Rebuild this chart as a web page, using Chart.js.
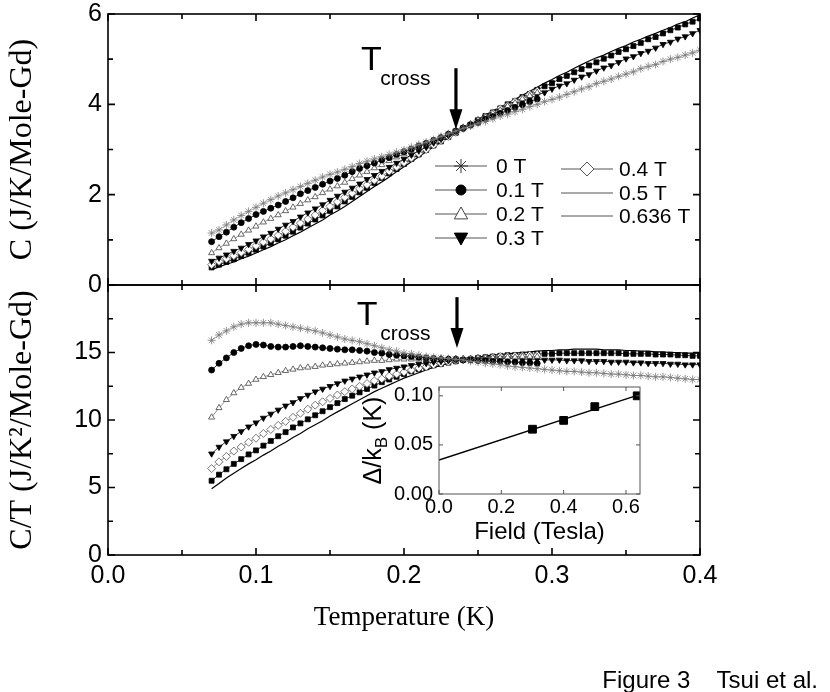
<!DOCTYPE html>
<html>
<head>
<meta charset="utf-8">
<script src="https://cdn.jsdelivr.net/npm/chart.js@4.4.1/dist/chart.umd.min.js"></script>
<style>
body{margin:0;background:#fff;}
#page{position:relative;width:830px;height:692px;background:#fff;overflow:hidden;}
canvas{position:absolute;}
#topPlot{left:0;top:0;}
#botPlot{left:0;top:270px;}
#inset{left:340px;top:375px;}
#caption{position:absolute;right:12px;top:666px;font:24px "Liberation Sans",Arial,sans-serif;white-space:pre;line-height:28px;color:#000;}
</style>
</head>
<body>
<div id="page">
<canvas id="topPlot" width="830" height="300"></canvas>
<canvas id="botPlot" width="830" height="422"></canvas>
<canvas id="inset" width="310" height="180"></canvas>
<div id="caption">Figure 3    Tsui et al.</div>
</div>
<script>
// temperature grid (K), shared by all field runs
const temps = [
  0.070,0.075,0.080,0.085,0.090,0.095,0.100,0.105,0.110,0.115,
  0.120,0.125,0.130,0.135,0.140,0.145,0.150,0.155,0.160,0.165,
  0.170,0.175,0.180,0.185,0.190,0.195,0.200,0.205,0.210,0.215,
  0.220,0.225,0.230,0.235,0.240,0.245,0.250,0.255,0.260,0.265,
  0.270,0.275,0.280,0.285,0.290,0.295,0.300,0.305,0.310,0.315,
  0.320,0.325,0.330,0.335,0.340,0.345,0.350,0.355,0.360,0.365,
  0.370,0.375,0.380,0.385,0.390,0.395,0.400];

const fieldLabels = ['0 T', '0.1 T', '0.2 T', '0.3 T', '0.4 T', '0.5 T', '0.636 T'];

// C (J/K/Mole-Gd), top panel
const cZero = [
  1.15,1.22,1.33,1.44,1.54,1.63,1.72,1.81,1.89,1.97,
  2.04,2.11,2.18,2.25,2.32,2.39,2.45,2.50,2.56,2.62,
  2.69,2.74,2.79,2.84,2.89,2.94,2.99,3.05,3.11,3.16,
  3.22,3.29,3.35,3.41,3.47,3.52,3.58,3.62,3.68,3.74,
  3.78,3.84,3.89,3.95,4.00,4.06,4.11,4.16,4.22,4.28,
  4.34,4.39,4.46,4.51,4.56,4.62,4.67,4.72,4.79,4.84,
  4.88,4.95,5.00,5.04,5.09,5.14,5.20];
const cP1 = [
  0.96,1.07,1.17,1.28,1.38,1.47,1.56,1.63,1.70,1.77,
  1.85,1.93,2.02,2.09,2.16,2.23,2.30,2.36,2.43,2.51,
  2.58,2.64,2.70,2.77,2.82,2.89,2.95,3.01,3.08,3.14,
  3.20,3.26,3.34,3.41,3.47,3.54,3.60,3.67,3.73,3.80,
  3.86,3.93,3.99,4.06,4.12];
const cP2 = [
  0.71,0.82,0.92,1.02,1.12,1.21,1.30,1.39,1.47,1.55,
  1.64,1.72,1.80,1.88,1.95,2.04,2.12,2.19,2.27,2.35,
  2.43,2.51,2.59,2.66,2.75,2.83,2.90,2.97,3.05,3.12,
  3.20,3.27,3.35,3.42,3.49,3.56,3.65,3.72,3.80,3.87,
  3.96,4.03,4.12,4.19,4.26];
const cP3 = [
  0.53,0.60,0.67,0.75,0.82,0.90,0.98,1.07,1.15,1.24,
  1.33,1.41,1.51,1.60,1.69,1.78,1.88,1.97,2.06,2.15,
  2.24,2.34,2.43,2.52,2.61,2.70,2.79,2.88,2.97,3.05,
  3.15,3.23,3.31,3.40,3.48,3.55,3.64,3.71,3.78,3.86,
  3.93,4.00,4.06,4.13,4.21,4.26,4.34,4.41,4.46,4.54,
  4.61,4.66,4.74,4.81,4.86,4.93,5.01,5.06,5.13,5.18,
  5.25,5.33,5.38,5.45,5.50,5.57,5.64];
const cP4 = [
  0.45,0.52,0.58,0.65,0.72,0.79,0.87,0.95,1.02,1.10,
  1.19,1.28,1.37,1.46,1.55,1.65,1.74,1.84,1.94,2.03,
  2.13,2.22,2.32,2.41,2.52,2.61,2.71,2.81,2.91,3.00,
  3.10,3.20,3.29,3.38,3.47,3.55,3.64,3.72,3.81,3.90,
  3.97,4.06,4.13,4.22,4.29];
const cP5 = [
  0.39,0.45,0.51,0.57,0.64,0.71,0.78,0.85,0.93,1.01,
  1.09,1.18,1.27,1.36,1.45,1.54,1.64,1.74,1.85,1.95,
  2.05,2.15,2.26,2.37,2.47,2.57,2.68,2.79,2.89,2.99,
  3.09,3.18,3.28,3.37,3.47,3.55,3.65,3.74,3.82,3.91,
  4.00,4.07,4.16,4.23,4.32,4.40,4.47,4.56,4.63,4.71,
  4.78,4.86,4.93,5.01,5.08,5.16,5.22,5.29,5.36,5.44,
  5.49,5.57,5.64,5.70,5.77,5.83,5.90];
const cP636 = [
  0.34,0.40,0.46,0.51,0.58,0.64,0.71,0.78,0.85,0.93,
  1.00,1.09,1.17,1.26,1.35,1.44,1.55,1.64,1.74,1.85,
  1.96,2.07,2.18,2.28,2.39,2.51,2.62,2.73,2.84,2.95,
  3.06,3.16,3.27,3.37,3.47,3.56,3.66,3.76,3.85,3.94,
  4.02,4.11,4.20,4.29,4.38,4.47,4.55,4.64,4.71,4.80,
  4.88,4.96,5.03,5.09,5.17,5.24,5.30,5.38,5.44,5.51,
  5.57,5.64,5.70,5.78,5.83,5.91,5.98];

// C/T (J/K^2/Mole-Gd), bottom panel
const ctZero = [
  15.9,16.3,16.6,16.9,17.1,17.2,17.2,17.2,17.2,17.1,
  17.0,16.9,16.8,16.7,16.6,16.45,16.3,16.15,16.0,15.9,
  15.8,15.65,15.5,15.35,15.2,15.1,14.95,14.9,14.8,14.7,
  14.65,14.6,14.55,14.5,14.45,14.35,14.3,14.2,14.15,14.1,
  14.0,13.95,13.9,13.85,13.8,13.75,13.7,13.65,13.6,13.6,
  13.55,13.5,13.5,13.45,13.4,13.4,13.35,13.3,13.3,13.25,
  13.2,13.2,13.15,13.1,13.05,13.0,13.0];
const ctP1 = [
  13.7,14.2,14.6,15.0,15.3,15.5,15.6,15.55,15.45,15.4,
  15.4,15.45,15.5,15.45,15.4,15.35,15.3,15.25,15.2,15.2,
  15.15,15.1,15.0,14.95,14.85,14.8,14.75,14.7,14.65,14.6,
  14.55,14.5,14.5,14.5,14.45,14.45,14.4,14.4,14.35,14.35,
  14.3,14.3,14.25,14.25,14.2];
const ctP2 = [
  10.2,10.9,11.5,12.0,12.4,12.7,13.0,13.2,13.35,13.5,
  13.65,13.75,13.85,13.9,13.95,14.05,14.1,14.15,14.2,14.25,
  14.3,14.35,14.4,14.4,14.45,14.5,14.5,14.5,14.5,14.5,
  14.55,14.55,14.55,14.55,14.55,14.55,14.6,14.6,14.6,14.6,
  14.65,14.65,14.7,14.7,14.7];
const ctP3 = [
  7.5,8.0,8.4,8.8,9.15,9.5,9.8,10.15,10.45,10.75,
  11.05,11.3,11.6,11.85,12.1,12.3,12.5,12.7,12.9,13.05,
  13.2,13.35,13.5,13.6,13.75,13.85,13.95,14.05,14.15,14.2,
  14.3,14.35,14.4,14.45,14.5,14.5,14.55,14.55,14.55,14.55,
  14.55,14.55,14.5,14.5,14.5,14.45,14.45,14.45,14.4,14.4,
  14.4,14.35,14.35,14.35,14.3,14.3,14.3,14.25,14.25,14.2,
  14.2,14.2,14.15,14.15,14.1,14.1,14.1];
const ctP4 = [
  6.4,6.9,7.3,7.7,8.0,8.35,8.65,9.0,9.3,9.6,
  9.9,10.2,10.5,10.8,11.1,11.35,11.6,11.85,12.1,12.3,
  12.5,12.7,12.9,13.05,13.25,13.4,13.55,13.7,13.85,13.95,
  14.1,14.2,14.3,14.4,14.45,14.5,14.55,14.6,14.65,14.7,
  14.7,14.75,14.75,14.8,14.8];
const ctP5 = [
  5.5,5.95,6.35,6.75,7.1,7.45,7.75,8.1,8.45,8.8,
  9.1,9.45,9.75,10.05,10.35,10.65,10.95,11.25,11.55,11.8,
  12.05,12.3,12.55,12.8,13.0,13.2,13.4,13.6,13.75,13.9,
  14.05,14.15,14.25,14.35,14.45,14.5,14.6,14.65,14.7,14.75,
  14.8,14.8,14.85,14.85,14.9,14.9,14.9,14.95,14.95,14.95,
  14.95,14.95,14.95,14.95,14.95,14.95,14.9,14.9,14.9,14.9,
  14.85,14.85,14.85,14.8,14.8,14.75,14.75];
const ctP636 = [
  4.9,5.3,5.7,6.05,6.4,6.75,7.05,7.4,7.7,8.05,
  8.35,8.7,9.0,9.35,9.65,9.95,10.3,10.6,10.9,11.2,
  11.5,11.8,12.1,12.35,12.6,12.85,13.1,13.3,13.5,13.7,
  13.9,14.05,14.2,14.35,14.45,14.55,14.65,14.75,14.8,14.85,
  14.9,14.95,15.0,15.05,15.1,15.15,15.15,15.2,15.2,15.25,
  15.25,15.25,15.25,15.2,15.2,15.2,15.15,15.15,15.1,15.1,
  15.05,15.05,15.0,15.0,14.95,14.95,14.95];

// inset: gap vs field
const fieldTesla = [0.3, 0.4, 0.5, 0.636];
const gapKelvin = [0.066, 0.075, 0.089, 0.100];
const fitTesla = [0, 0.636];
const fitGap = [0.0347, 0.1005];

// tick labels
const tempTicks = [0, 0.1, 0.2, 0.3, 0.4];
const cTicks = [0, 2, 4, 6];
const ctTicks = [0, 5, 10, 15];
const fieldTicks = [0, 0.2, 0.4, 0.6];
const gapTicks = [0, 0.05, 0.1];

const SANS = '"Liberation Sans", Arial, Helvetica, sans-serif';
const SERIF = '"Liberation Serif", "Times New Roman", serif';
Chart.defaults.color = '#000';
Chart.defaults.font.family = SANS;

// marker look of each run
const looks = [
  {style: 'star', r: 4, fill: '#777', edge: '#777', line: '#999', key: true},
  {style: 'circle', r: 3, fill: '#000', edge: '#000', line: '#000', key: true},
  {style: 'triangle', r: 3.5, fill: '#fff', edge: '#444', line: '#777', key: true},
  {style: 'triangle', rot: 180, r: 3.5, fill: '#000', edge: '#000', line: '#000', key: true},
  {style: 'rectRot', r: 4, fill: '#fff', edge: '#555', line: '#777', key: true},
  {style: 'rect', r: 3.5, fill: '#000', edge: '#000', line: '#000', key: false},
  {style: 'circle', r: 0, fill: '#000', edge: '#000', line: '#000', key: false}
];

function runs(list) {
  return list.map((vals, i) => ({
    label: fieldLabels[i],
    data: vals.map((v, k) => ({x: temps[k], y: v})),
    showLine: true,
    borderColor: looks[i].line,
    borderWidth: i === 6 ? 1.2 : 0.8,
    pointStyle: looks[i].style,
    pointRotation: looks[i].rot || 0,
    pointRadius: looks[i].r,
    pointBackgroundColor: looks[i].fill,
    pointBorderColor: looks[i].edge,
    pointBorderWidth: 0.8
  }));
}

// box around plot area with inward ticks on all four sides
const frame = {
  id: 'frame',
  afterDatasetsDraw(chart, args, o) {
    const {ctx, chartArea: a, scales: {x, y}} = chart;
    ctx.save();
    ctx.strokeStyle = o.color;
    ctx.lineWidth = o.width;
    ctx.strokeRect(a.left, a.top, a.right - a.left, a.bottom - a.top);
    ctx.beginPath();
    const xt = (vals, len) => vals.forEach(v => {
      const p = x.getPixelForValue(v);
      ctx.moveTo(p, a.bottom); ctx.lineTo(p, a.bottom - len);
      ctx.moveTo(p, a.top); ctx.lineTo(p, a.top + len);
    });
    const yt = (vals, len) => vals.forEach(v => {
      const p = y.getPixelForValue(v);
      ctx.moveTo(a.left, p); ctx.lineTo(a.left + len, p);
      ctx.moveTo(a.right, p); ctx.lineTo(a.right - len, p);
    });
    xt(o.xMajor, o.major); xt(o.xMinor || [], o.minor);
    yt(o.yMajor, o.major); yt(o.yMinor || [], o.minor);
    ctx.stroke();
    ctx.restore();
  }
};

// "T cross" label with arrow
const crossMark = {
  id: 'crossMark',
  afterDatasetsDraw(chart, args, o) {
    const {ctx, scales: {x, y}} = chart;
    ctx.save();
    ctx.fillStyle = '#000';
    ctx.textBaseline = 'alphabetic';
    ctx.font = '34px ' + SANS;
    ctx.fillText('T', x.getPixelForValue(o.tX), y.getPixelForValue(o.tY));
    ctx.font = '21px ' + SANS;
    ctx.fillText('cross', x.getPixelForValue(o.subX), y.getPixelForValue(o.subY));
    const ax = x.getPixelForValue(o.arrowX);
    const a1 = y.getPixelForValue(o.arrowTop), a2 = y.getPixelForValue(o.arrowTip);
    ctx.fillRect(ax - 1.6, a1, 3.2, a2 - a1 - 18);
    ctx.beginPath();
    ctx.moveTo(ax - 6.5, a2 - 20);
    ctx.lineTo(ax + 6.5, a2 - 20);
    ctx.lineTo(ax, a2);
    ctx.closePath();
    ctx.fill();
    ctx.restore();
  }
};

function mark(ctx, lk, x, y, r) {
  ctx.fillStyle = lk.fill;
  ctx.strokeStyle = lk.edge;
  ctx.lineWidth = 1;
  ctx.beginPath();
  if (lk.style === 'circle') {
    ctx.arc(x, y, r, 0, 2 * Math.PI);
    ctx.fill(); ctx.stroke();
  } else if (lk.style === 'triangle') {
    const s = lk.rot ? -1 : 1;
    ctx.moveTo(x, y - s * r);
    ctx.lineTo(x + r * 0.95, y + s * r * 0.7);
    ctx.lineTo(x - r * 0.95, y + s * r * 0.7);
    ctx.closePath();
    ctx.fill(); ctx.stroke();
  } else if (lk.style === 'rectRot') {
    ctx.moveTo(x, y - r); ctx.lineTo(x + r, y); ctx.lineTo(x, y + r); ctx.lineTo(x - r, y);
    ctx.closePath();
    ctx.fill(); ctx.stroke();
  } else if (lk.style === 'star') {
    ctx.strokeStyle = '#333';
    for (let k = 0; k < 4; k++) {
      const t = k * Math.PI / 4;
      ctx.moveTo(x - r * Math.cos(t), y - r * Math.sin(t));
      ctx.lineTo(x + r * Math.cos(t), y + r * Math.sin(t));
    }
    ctx.stroke();
  }
}

// two-column key inside the top panel
const keySlots = [
  [435, 461, 487, 496, 166], [435, 461, 487, 496, 190], [435, 461, 487, 496, 214], [435, 461, 487, 496, 238],
  [561, 587, 613, 619, 169], [561, 587, 613, 619, 193], [561, 587, 613, 619, 216]
];
const keyPlugin = {
  id: 'keyPlugin',
  afterDraw(chart) {
    const ctx = chart.ctx;
    ctx.save();
    ctx.textBaseline = 'middle';
    chart.data.datasets.forEach((ds, i) => {
      const [x1, xm, x2, xt, y] = keySlots[i];
      ctx.strokeStyle = '#555';
      ctx.lineWidth = 1;
      ctx.beginPath(); ctx.moveTo(x1, y); ctx.lineTo(x2, y); ctx.stroke();
      if (looks[i].key) mark(ctx, looks[i], xm, y, looks[i].style === 'circle' ? 5 : 7);
      ctx.fillStyle = '#000';
      ctx.font = '21px ' + SANS;
      ctx.fillText(ds.label, xt, y + 1);
    });
    ctx.restore();
  }
};

// inset y title with subscript B
const gapTitle = {
  id: 'gapTitle',
  afterDraw(chart) {
    const {ctx, chartArea: a} = chart;
    ctx.save();
    ctx.translate(34, (a.top + a.bottom) / 2);
    ctx.rotate(-Math.PI / 2);
    ctx.fillStyle = '#000';
    ctx.textBaseline = 'middle';
    const big = '25px ' + SANS, small = '17px ' + SANS;
    ctx.font = big;
    const w1 = ctx.measureText('\u0394/k').width, w3 = ctx.measureText(' (K)').width;
    ctx.font = small;
    const w2 = ctx.measureText('B').width;
    const x0 = -(w1 + w2 + w3) / 2;
    ctx.font = big; ctx.fillText('\u0394/k', x0, 0);
    ctx.font = small; ctx.fillText('B', x0 + w1, 8);
    ctx.font = big; ctx.fillText(' (K)', x0 + w1 + w2, 0);
    ctx.restore();
  }
};

const setTicks = vals => scale => { scale.ticks = vals.map(v => ({value: v})); };
const noGrid = {display: false, drawTicks: false};

function tempAxis(showLabels, height) {
  return {
    type: 'linear', min: 0, max: 0.4,
    grid: noGrid, border: {display: false},
    afterBuildTicks: setTicks(tempTicks),
    ticks: {display: showLabels, autoSkip: false, maxRotation: 0, padding: 6,
            font: {size: 25}, callback: v => v.toFixed(1)},
    title: {display: showLabels, text: 'Temperature (K)',
            font: {family: SERIF, size: 27}, padding: {top: 0, bottom: 58}},
    afterFit(s) { s.height = height; s.paddingLeft = 0; s.paddingRight = 0; }
  };
}
function valueAxis(max, ticks, label) {
  return {
    min: 0, max: max,
    grid: noGrid, border: {display: false},
    afterBuildTicks: setTicks(ticks),
    ticks: {padding: 6, font: {size: 25}, callback: v => String(v)},
    title: {display: true, text: label, font: {family: SERIF, size: 32}, padding: {top: 3, bottom: 0}},
    afterFit(s) { s.width = 108; s.paddingTop = 0; s.paddingBottom = 0; }
  };
}
const baseOpts = {
  responsive: false, animation: false, events: [],
  plugins: {legend: {display: false}, tooltip: {enabled: false}}
};

new Chart(document.getElementById('topPlot'), {
  type: 'scatter',
  data: {datasets: runs([cZero, cP1, cP2, cP3, cP4, cP5, cP636])},
  options: Object.assign({}, baseOpts, {
    layout: {padding: {left: 0, top: 14, right: 130, bottom: 0}},
    scales: {x: tempAxis(false, 15), y: valueAxis(6, cTicks, 'C (J/K/Mole-Gd)')},
    plugins: Object.assign({}, baseOpts.plugins, {
      frame: {color: '#000', width: 1.6, major: 7, minor: 5,
              xMajor: tempTicks, xMinor: [0.05, 0.15, 0.25, 0.35], yMajor: cTicks, yMinor: [1, 3, 5]},
      crossMark: {tX: 0.171, tY: 4.76, subX: 0.184, subY: 4.42, arrowX: 0.2351, arrowTop: 4.8, arrowTip: 3.45}
    })
  }),
  plugins: [frame, crossMark, keyPlugin]
});

new Chart(document.getElementById('botPlot'), {
  type: 'scatter',
  data: {datasets: runs([ctZero, ctP1, ctP2, ctP3, ctP4, ctP5, ctP636])},
  options: Object.assign({}, baseOpts, {
    layout: {padding: {left: 0, top: 15, right: 130, bottom: 0}},
    scales: {x: tempAxis(true, 137), y: valueAxis(20, ctTicks, 'C/T (J/K\u00b2/Mole-Gd)')},
    plugins: Object.assign({}, baseOpts.plugins, {
      frame: {color: '#000', width: 1.6, major: 7, minor: 5,
              xMajor: tempTicks, xMinor: [0.05, 0.15, 0.25, 0.35],
              yMajor: [0, 5, 10, 15, 20], yMinor: [2.5, 7.5, 12.5, 17.5]},
      crossMark: {tX: 0.168, tY: 17.04, subX: 0.184, subY: 15.93, arrowX: 0.2358, arrowTop: 19.1, arrowTip: 15.33}
    })
  }),
  plugins: [frame, crossMark]
});

new Chart(document.getElementById('inset'), {
  type: 'scatter',
  data: {datasets: [
    {data: fitTesla.map((f, i) => ({x: f, y: fitGap[i]})), showLine: true,
     borderColor: '#000', borderWidth: 1.5, pointRadius: 0},
    {data: fieldTesla.map((f, i) => ({x: f, y: gapKelvin[i]})), showLine: false,
     pointStyle: 'rect', pointRadius: 5.5, backgroundColor: '#000', borderColor: '#000'}
  ]},
  options: Object.assign({}, baseOpts, {
    layout: {padding: {left: 0, top: 12, right: 10, bottom: 0}},
    scales: {
      x: {type: 'linear', min: 0, max: 0.645,
          grid: noGrid, border: {display: false},
          afterBuildTicks: setTicks(fieldTicks),
          ticks: {autoSkip: false, maxRotation: 0, padding: 1, font: {size: 20}, callback: v => v.toFixed(1)},
          title: {display: true, text: 'Field (Tesla)', font: {size: 24}, padding: {top: 0, bottom: 8}},
          afterFit(s) { s.height = 61; s.paddingLeft = 0; s.paddingRight = 0; }},
      y: {min: 0, max: 0.109,
          grid: noGrid, border: {display: false},
          afterBuildTicks: setTicks(gapTicks),
          ticks: {padding: 6, font: {size: 20}, callback: v => v.toFixed(2)},
          afterFit(s) { s.width = 99; s.paddingTop = 0; s.paddingBottom = 0; }}
    },
    plugins: Object.assign({}, baseOpts.plugins, {
      frame: {color: '#555', width: 1, major: 4, minor: 3,
              xMajor: fieldTicks, yMajor: gapTicks}
    })
  }),
  plugins: [frame, gapTitle]
});
</script>
</body>
</html>
